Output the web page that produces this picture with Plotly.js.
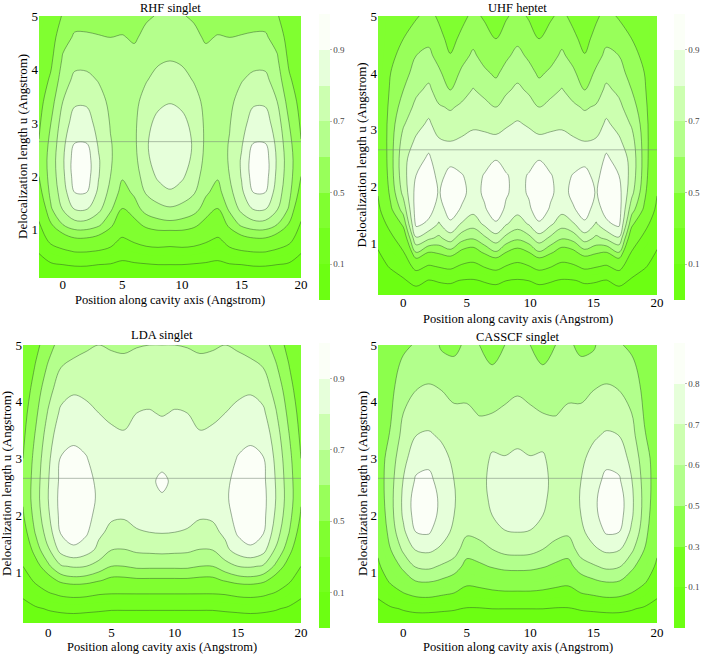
<!DOCTYPE html>
<html>
<head>
<meta charset="utf-8">
<script src="https://cdn.plot.ly/plotly-3.0.1.min.js"></script>
<style>
  html, body { margin: 0; padding: 0; background: #fff; }
  #chart { width: 701px; height: 656px; }
</style>
</head>
<body>
<div id="chart"></div>
<script>
// contour levels and colorbar labels
var levels7 = [0.1, 0.3, 0.5, 0.6, 0.7, 0.8, 0.9];
var labels7 = [0.1, 0.5, 0.7, 0.9];
var levels6 = [0.1, 0.3, 0.5, 0.6, 0.7, 0.8];
var labels6 = [0.1, 0.3, 0.5, 0.6, 0.7, 0.8];
// band colours, lowest band first
var greens8 = ['#6cff12', '#74ff1e', '#80ff30', '#98ff5a', '#b4ff8c', '#ccffb0', '#e6ffda', '#fbfff7'];
var greens7 = ['#6cff12', '#74ff1e', '#8cff4c', '#b2ff8c', '#ccffb0', '#e6ffda', '#fbfff7'];
var refLineU = 2.65;

// ---- RHF singlet: one row per x position, values along u ----
var rhfU = [0.1, 0.35, 0.6, 0.85, 1.1, 1.4, 1.7, 2.0, 2.3, 2.6, 3.0, 3.4, 3.8, 4.2, 4.6, 5.0];
var rhfX = [-2, -1, 0, 1, 2, 3, 4, 5, 6, 7, 8, 9, 10, 11, 12, 13, 14, 15, 16, 17, 18, 19, 20];
var rhfZ = [
  [0.01, 0.05, 0.11, 0.20, 0.28, 0.38, 0.46, 0.50, 0.51, 0.505, 0.485, 0.465, 0.445, 0.425, 0.40, 0.38],
  [0.015, 0.08, 0.22, 0.37, 0.49, 0.59, 0.625, 0.64, 0.645, 0.63, 0.60, 0.56, 0.515, 0.48, 0.45, 0.42],
  [0.02, 0.10, 0.27, 0.45, 0.60, 0.71, 0.75, 0.775, 0.785, 0.775, 0.745, 0.70, 0.65, 0.61, 0.57, 0.51],
  [0.02, 0.11, 0.31, 0.50, 0.66, 0.81, 0.90, 0.945, 0.95, 0.905, 0.845, 0.785, 0.725, 0.665, 0.61, 0.57],
  [0.02, 0.11, 0.31, 0.50, 0.66, 0.81, 0.90, 0.945, 0.95, 0.905, 0.845, 0.785, 0.725, 0.665, 0.61, 0.57],
  [0.02, 0.10, 0.29, 0.47, 0.62, 0.73, 0.78, 0.805, 0.81, 0.79, 0.76, 0.735, 0.695, 0.665, 0.605, 0.565],
  [0.015, 0.09, 0.25, 0.41, 0.53, 0.62, 0.67, 0.70, 0.71, 0.705, 0.695, 0.68, 0.665, 0.645, 0.60, 0.56],
  [0.012, 0.07, 0.17, 0.29, 0.40, 0.50, 0.565, 0.61, 0.64, 0.665, 0.675, 0.675, 0.665, 0.645, 0.605, 0.565],
  [0.015, 0.08, 0.21, 0.35, 0.46, 0.56, 0.615, 0.65, 0.67, 0.68, 0.68, 0.675, 0.66, 0.625, 0.59, 0.56],
  [0.015, 0.09, 0.24, 0.40, 0.53, 0.64, 0.71, 0.75, 0.78, 0.79, 0.775, 0.735, 0.695, 0.655, 0.62, 0.59],
  [0.02, 0.10, 0.25, 0.42, 0.56, 0.67, 0.76, 0.815, 0.84, 0.845, 0.825, 0.78, 0.73, 0.685, 0.64, 0.605],
  [0.02, 0.10, 0.24, 0.41, 0.57, 0.69, 0.79, 0.84, 0.865, 0.87, 0.845, 0.795, 0.745, 0.695, 0.645, 0.615],
  [0.02, 0.10, 0.25, 0.42, 0.56, 0.67, 0.76, 0.815, 0.84, 0.845, 0.825, 0.78, 0.73, 0.685, 0.64, 0.605],
  [0.015, 0.09, 0.24, 0.40, 0.53, 0.64, 0.71, 0.75, 0.78, 0.79, 0.775, 0.735, 0.695, 0.655, 0.62, 0.59],
  [0.015, 0.08, 0.21, 0.35, 0.46, 0.56, 0.615, 0.65, 0.67, 0.68, 0.68, 0.675, 0.66, 0.625, 0.59, 0.56],
  [0.012, 0.07, 0.17, 0.29, 0.40, 0.50, 0.565, 0.61, 0.64, 0.665, 0.675, 0.675, 0.665, 0.645, 0.605, 0.565],
  [0.015, 0.09, 0.25, 0.41, 0.53, 0.62, 0.67, 0.70, 0.71, 0.705, 0.695, 0.68, 0.665, 0.645, 0.60, 0.56],
  [0.02, 0.10, 0.29, 0.47, 0.62, 0.73, 0.78, 0.805, 0.81, 0.79, 0.76, 0.735, 0.695, 0.665, 0.605, 0.565],
  [0.02, 0.11, 0.31, 0.50, 0.66, 0.81, 0.90, 0.945, 0.95, 0.905, 0.845, 0.785, 0.725, 0.665, 0.61, 0.57],
  [0.02, 0.11, 0.31, 0.50, 0.66, 0.81, 0.90, 0.945, 0.95, 0.905, 0.845, 0.785, 0.725, 0.665, 0.61, 0.57],
  [0.02, 0.10, 0.27, 0.45, 0.60, 0.71, 0.75, 0.775, 0.785, 0.775, 0.745, 0.70, 0.65, 0.61, 0.57, 0.51],
  [0.015, 0.08, 0.22, 0.37, 0.49, 0.59, 0.625, 0.64, 0.645, 0.63, 0.60, 0.56, 0.515, 0.48, 0.45, 0.42],
  [0.01, 0.05, 0.11, 0.20, 0.28, 0.38, 0.46, 0.50, 0.51, 0.505, 0.485, 0.465, 0.445, 0.425, 0.40, 0.38]
];

// ---- UHF heptet ----
var uhfU = [0.1, 0.35, 0.6, 0.85, 1.1, 1.35, 1.6, 1.9, 2.2, 2.5, 2.8, 3.1, 3.4, 3.7, 4.0, 4.3, 4.6, 5.0];
var uhfX = [-2, -1, 0, 1, 2, 2.8, 3.7, 4.6, 5.5, 6.4, 7.3, 8.1, 9, 9.9, 10.7, 11.6, 12.5, 13.4, 14.3, 15.2, 16, 17, 18, 19, 20];
var uhfZ = [
  [0.01, 0.03, 0.06, 0.09, 0.14, 0.20, 0.26, 0.31, 0.34, 0.36, 0.365, 0.365, 0.36, 0.355, 0.35, 0.34, 0.33, 0.32],
  [0.01, 0.05, 0.11, 0.18, 0.26, 0.36, 0.48, 0.53, 0.555, 0.56, 0.56, 0.555, 0.54, 0.52, 0.50, 0.48, 0.46, 0.44],
  [0.015, 0.08, 0.18, 0.29, 0.40, 0.53, 0.64, 0.73, 0.765, 0.77, 0.74, 0.69, 0.64, 0.60, 0.56, 0.53, 0.50, 0.47],
  [0.02, 0.15, 0.36, 0.60, 0.79, 0.925, 0.945, 0.935, 0.90, 0.86, 0.815, 0.77, 0.725, 0.68, 0.64, 0.60, 0.55, 0.49],
  [0.02, 0.09, 0.28, 0.50, 0.72, 0.88, 0.935, 0.955, 0.945, 0.915, 0.865, 0.815, 0.77, 0.72, 0.67, 0.62, 0.58, 0.53],
  [0.02, 0.11, 0.31, 0.52, 0.68, 0.79, 0.86, 0.893, 0.875, 0.845, 0.81, 0.76, 0.71, 0.655, 0.615, 0.57, 0.53, 0.485],
  [0.02, 0.12, 0.34, 0.56, 0.75, 0.885, 0.94, 0.955, 0.925, 0.875, 0.80, 0.74, 0.69, 0.60, 0.55, 0.505, 0.47, 0.42],
  [0.02, 0.09, 0.27, 0.47, 0.64, 0.79, 0.89, 0.925, 0.905, 0.86, 0.815, 0.76, 0.715, 0.665, 0.615, 0.57, 0.52, 0.475],
  [0.02, 0.085, 0.24, 0.44, 0.61, 0.74, 0.83, 0.865, 0.87, 0.855, 0.82, 0.79, 0.74, 0.705, 0.66, 0.615, 0.575, 0.52],
  [0.02, 0.11, 0.31, 0.52, 0.68, 0.82, 0.89, 0.915, 0.905, 0.87, 0.825, 0.78, 0.725, 0.675, 0.615, 0.57, 0.53, 0.49],
  [0.02, 0.13, 0.36, 0.59, 0.76, 0.89, 0.945, 0.96, 0.94, 0.895, 0.82, 0.77, 0.70, 0.635, 0.585, 0.545, 0.50, 0.45],
  [0.02, 0.10, 0.29, 0.50, 0.67, 0.81, 0.885, 0.91, 0.905, 0.875, 0.835, 0.79, 0.74, 0.685, 0.63, 0.585, 0.54, 0.49],
  [0.02, 0.085, 0.24, 0.45, 0.62, 0.75, 0.83, 0.87, 0.88, 0.87, 0.845, 0.81, 0.76, 0.72, 0.67, 0.625, 0.58, 0.53],
  [0.02, 0.10, 0.29, 0.50, 0.67, 0.81, 0.885, 0.91, 0.905, 0.875, 0.835, 0.79, 0.74, 0.685, 0.63, 0.585, 0.54, 0.49],
  [0.02, 0.13, 0.36, 0.59, 0.76, 0.89, 0.945, 0.96, 0.94, 0.895, 0.82, 0.77, 0.70, 0.635, 0.585, 0.545, 0.50, 0.45],
  [0.02, 0.11, 0.31, 0.52, 0.68, 0.82, 0.89, 0.915, 0.905, 0.87, 0.825, 0.78, 0.725, 0.675, 0.615, 0.57, 0.53, 0.49],
  [0.02, 0.085, 0.24, 0.44, 0.61, 0.74, 0.83, 0.865, 0.87, 0.855, 0.82, 0.79, 0.74, 0.705, 0.66, 0.615, 0.575, 0.52],
  [0.02, 0.09, 0.27, 0.47, 0.64, 0.79, 0.89, 0.925, 0.905, 0.86, 0.815, 0.76, 0.715, 0.665, 0.615, 0.57, 0.52, 0.475],
  [0.02, 0.12, 0.34, 0.56, 0.75, 0.885, 0.94, 0.955, 0.925, 0.875, 0.80, 0.74, 0.69, 0.60, 0.55, 0.505, 0.47, 0.42],
  [0.02, 0.11, 0.31, 0.52, 0.68, 0.79, 0.86, 0.893, 0.875, 0.845, 0.81, 0.76, 0.71, 0.655, 0.615, 0.57, 0.53, 0.485],
  [0.02, 0.09, 0.28, 0.50, 0.72, 0.88, 0.935, 0.955, 0.945, 0.915, 0.865, 0.815, 0.77, 0.72, 0.67, 0.62, 0.58, 0.53],
  [0.02, 0.15, 0.36, 0.60, 0.79, 0.925, 0.945, 0.935, 0.90, 0.86, 0.815, 0.77, 0.725, 0.68, 0.64, 0.60, 0.55, 0.49],
  [0.015, 0.08, 0.18, 0.29, 0.40, 0.53, 0.64, 0.73, 0.765, 0.77, 0.74, 0.69, 0.64, 0.60, 0.56, 0.53, 0.50, 0.47],
  [0.01, 0.05, 0.11, 0.18, 0.26, 0.36, 0.48, 0.53, 0.555, 0.56, 0.56, 0.555, 0.54, 0.52, 0.50, 0.48, 0.46, 0.44],
  [0.01, 0.03, 0.06, 0.09, 0.14, 0.20, 0.26, 0.31, 0.34, 0.36, 0.365, 0.365, 0.36, 0.355, 0.35, 0.34, 0.33, 0.32]
];

// ---- LDA singlet ----
var ldaU = [0.1, 0.35, 0.6, 0.85, 1.1, 1.4, 1.7, 2.0, 2.3, 2.6, 3.0, 3.4, 3.8, 4.2, 4.6, 5.0];
var ldaX = [-2, -1, 0, 1, 2, 3, 4, 5, 6, 7, 8, 9, 10, 11, 12, 13, 14, 15, 16, 17, 18, 19, 20];
var ldaZ = [
  [0.01, 0.05, 0.12, 0.21, 0.30, 0.39, 0.45, 0.49, 0.51, 0.51, 0.50, 0.48, 0.46, 0.43, 0.40, 0.37],
  [0.015, 0.08, 0.20, 0.33, 0.45, 0.55, 0.61, 0.64, 0.655, 0.65, 0.635, 0.61, 0.58, 0.55, 0.51, 0.47],
  [0.02, 0.11, 0.27, 0.44, 0.58, 0.69, 0.75, 0.785, 0.80, 0.795, 0.78, 0.75, 0.71, 0.665, 0.615, 0.56],
  [0.02, 0.13, 0.32, 0.53, 0.69, 0.84, 0.91, 0.93, 0.935, 0.925, 0.905, 0.87, 0.82, 0.76, 0.70, 0.64],
  [0.02, 0.14, 0.34, 0.56, 0.71, 0.89, 0.93, 0.95, 0.955, 0.945, 0.92, 0.885, 0.84, 0.79, 0.725, 0.665],
  [0.02, 0.13, 0.33, 0.55, 0.70, 0.85, 0.915, 0.935, 0.94, 0.93, 0.905, 0.87, 0.825, 0.78, 0.725, 0.69],
  [0.02, 0.12, 0.30, 0.51, 0.66, 0.775, 0.82, 0.865, 0.885, 0.88, 0.86, 0.835, 0.80, 0.765, 0.73, 0.70],
  [0.02, 0.11, 0.29, 0.47, 0.60, 0.705, 0.775, 0.815, 0.84, 0.85, 0.835, 0.81, 0.79, 0.76, 0.73, 0.69],
  [0.02, 0.11, 0.29, 0.47, 0.60, 0.70, 0.77, 0.81, 0.835, 0.845, 0.83, 0.805, 0.785, 0.755, 0.725, 0.685],
  [0.02, 0.11, 0.29, 0.48, 0.62, 0.72, 0.79, 0.835, 0.86, 0.865, 0.85, 0.82, 0.80, 0.77, 0.735, 0.695],
  [0.02, 0.11, 0.29, 0.48, 0.62, 0.725, 0.80, 0.85, 0.88, 0.89, 0.87, 0.835, 0.805, 0.775, 0.74, 0.70],
  [0.02, 0.11, 0.29, 0.48, 0.62, 0.73, 0.805, 0.86, 0.895, 0.91, 0.885, 0.83, 0.795, 0.775, 0.74, 0.70],
  [0.02, 0.11, 0.29, 0.48, 0.62, 0.725, 0.80, 0.85, 0.88, 0.89, 0.87, 0.835, 0.805, 0.775, 0.74, 0.70],
  [0.02, 0.11, 0.29, 0.48, 0.62, 0.72, 0.79, 0.835, 0.86, 0.865, 0.85, 0.82, 0.80, 0.77, 0.735, 0.695],
  [0.02, 0.11, 0.29, 0.47, 0.60, 0.70, 0.77, 0.81, 0.835, 0.845, 0.83, 0.805, 0.785, 0.755, 0.725, 0.685],
  [0.02, 0.11, 0.29, 0.47, 0.60, 0.705, 0.775, 0.815, 0.84, 0.85, 0.835, 0.81, 0.79, 0.76, 0.73, 0.69],
  [0.02, 0.12, 0.30, 0.51, 0.66, 0.775, 0.82, 0.865, 0.885, 0.88, 0.86, 0.835, 0.80, 0.765, 0.73, 0.70],
  [0.02, 0.13, 0.33, 0.55, 0.70, 0.85, 0.915, 0.935, 0.94, 0.93, 0.905, 0.87, 0.825, 0.78, 0.725, 0.69],
  [0.02, 0.14, 0.34, 0.56, 0.71, 0.89, 0.93, 0.95, 0.955, 0.945, 0.92, 0.885, 0.84, 0.79, 0.725, 0.665],
  [0.02, 0.13, 0.32, 0.53, 0.69, 0.84, 0.91, 0.93, 0.935, 0.925, 0.905, 0.87, 0.82, 0.76, 0.70, 0.64],
  [0.02, 0.11, 0.27, 0.44, 0.58, 0.69, 0.75, 0.785, 0.80, 0.795, 0.78, 0.75, 0.71, 0.665, 0.615, 0.56],
  [0.015, 0.08, 0.20, 0.33, 0.45, 0.55, 0.61, 0.64, 0.655, 0.65, 0.635, 0.61, 0.58, 0.55, 0.51, 0.47],
  [0.01, 0.05, 0.12, 0.21, 0.30, 0.39, 0.45, 0.49, 0.51, 0.51, 0.50, 0.48, 0.46, 0.43, 0.40, 0.37]
];

// ---- CASSCF singlet ----
var casU = [0.1, 0.35, 0.6, 0.85, 1.1, 1.4, 1.7, 2.0, 2.3, 2.6, 3.0, 3.4, 3.8, 4.2, 4.6, 5.0];
var casX = [-2, -1, 0, 1, 2, 3, 4, 5, 6, 7, 8, 9, 10, 11, 12, 13, 14, 15, 16, 17, 18, 19, 20];
var casZ = [
  [0.01, 0.05, 0.12, 0.20, 0.27, 0.33, 0.38, 0.41, 0.43, 0.44, 0.44, 0.435, 0.43, 0.42, 0.41, 0.40],
  [0.015, 0.08, 0.21, 0.33, 0.42, 0.50, 0.545, 0.565, 0.57, 0.565, 0.55, 0.51, 0.49, 0.475, 0.46, 0.45],
  [0.02, 0.11, 0.28, 0.43, 0.53, 0.62, 0.68, 0.715, 0.72, 0.705, 0.67, 0.635, 0.60, 0.565, 0.525, 0.48],
  [0.02, 0.13, 0.33, 0.51, 0.61, 0.71, 0.80, 0.845, 0.85, 0.815, 0.76, 0.70, 0.655, 0.60, 0.56, 0.51],
  [0.02, 0.13, 0.34, 0.52, 0.62, 0.72, 0.81, 0.86, 0.87, 0.83, 0.77, 0.71, 0.665, 0.61, 0.575, 0.545],
  [0.02, 0.12, 0.31, 0.49, 0.59, 0.685, 0.74, 0.765, 0.77, 0.755, 0.725, 0.69, 0.645, 0.60, 0.53, 0.49],
  [0.02, 0.11, 0.28, 0.45, 0.56, 0.64, 0.68, 0.70, 0.705, 0.70, 0.685, 0.66, 0.615, 0.58, 0.52, 0.48],
  [0.015, 0.09, 0.22, 0.35, 0.46, 0.55, 0.615, 0.645, 0.66, 0.665, 0.66, 0.645, 0.615, 0.58, 0.55, 0.515],
  [0.015, 0.09, 0.23, 0.37, 0.48, 0.57, 0.625, 0.655, 0.67, 0.675, 0.665, 0.635, 0.595, 0.56, 0.53, 0.50],
  [0.015, 0.10, 0.25, 0.40, 0.51, 0.60, 0.665, 0.70, 0.715, 0.72, 0.71, 0.675, 0.60, 0.555, 0.505, 0.465],
  [0.015, 0.10, 0.26, 0.42, 0.53, 0.63, 0.695, 0.735, 0.75, 0.745, 0.705, 0.665, 0.615, 0.575, 0.535, 0.50],
  [0.015, 0.10, 0.26, 0.42, 0.535, 0.635, 0.70, 0.745, 0.76, 0.755, 0.715, 0.68, 0.63, 0.59, 0.55, 0.52],
  [0.015, 0.10, 0.26, 0.42, 0.53, 0.63, 0.695, 0.735, 0.75, 0.745, 0.705, 0.665, 0.615, 0.575, 0.535, 0.50],
  [0.015, 0.10, 0.25, 0.40, 0.51, 0.60, 0.665, 0.70, 0.715, 0.72, 0.71, 0.675, 0.60, 0.555, 0.505, 0.465],
  [0.015, 0.09, 0.23, 0.37, 0.48, 0.57, 0.625, 0.655, 0.67, 0.675, 0.665, 0.635, 0.595, 0.56, 0.53, 0.50],
  [0.015, 0.09, 0.22, 0.35, 0.46, 0.55, 0.615, 0.645, 0.66, 0.665, 0.66, 0.645, 0.615, 0.58, 0.55, 0.515],
  [0.02, 0.11, 0.28, 0.45, 0.56, 0.64, 0.68, 0.70, 0.705, 0.70, 0.685, 0.66, 0.615, 0.58, 0.52, 0.48],
  [0.02, 0.12, 0.31, 0.49, 0.59, 0.685, 0.74, 0.765, 0.77, 0.755, 0.725, 0.69, 0.645, 0.60, 0.53, 0.49],
  [0.02, 0.13, 0.34, 0.52, 0.62, 0.72, 0.81, 0.86, 0.87, 0.83, 0.77, 0.71, 0.665, 0.61, 0.575, 0.545],
  [0.02, 0.13, 0.33, 0.51, 0.61, 0.71, 0.80, 0.845, 0.85, 0.815, 0.76, 0.70, 0.655, 0.60, 0.56, 0.51],
  [0.02, 0.11, 0.28, 0.43, 0.53, 0.62, 0.68, 0.715, 0.72, 0.705, 0.67, 0.635, 0.60, 0.565, 0.525, 0.48],
  [0.015, 0.08, 0.21, 0.33, 0.42, 0.50, 0.545, 0.565, 0.57, 0.565, 0.55, 0.51, 0.49, 0.475, 0.46, 0.45],
  [0.01, 0.05, 0.12, 0.20, 0.27, 0.33, 0.38, 0.41, 0.43, 0.44, 0.44, 0.435, 0.43, 0.42, 0.41, 0.40]
];

var xTicks = [0, 5, 10, 15, 20];
var uTicks = [1, 2, 3, 4, 5];

var W = 701, H = 656;
var serif = 'Liberation Serif, Times New Roman, serif';
var lineColor = 'rgba(40,70,40,0.55)';

// pixel boxes of each panel: plot area [left, right, top, bottom], colorbar left/top/bottom, text positions
var panels = [
  { title: 'RHF singlet', x: rhfX, u: rhfU, z: rhfZ, levels: levels7, labels: labels7, colors: greens8,
    box: [39, 301, 16, 278], cb: [319, 14, 300], titleY: 8, xTitleY: 300, yTitleX: 22, tickShift: -3 },
  { title: 'UHF heptet', x: uhfX, u: uhfU, z: uhfZ, levels: levels7, labels: labels7, colors: greens8,
    box: [378, 657, 16, 295], cb: [674, 14, 300], titleY: 8, xTitleY: 319, yTitleX: 361, tickShift: -2 },
  { title: 'LDA singlet', x: ldaX, u: ldaU, z: ldaZ, levels: levels7, labels: labels7, colors: greens8,
    box: [23, 301, 345, 623], cb: [319, 343, 628], titleY: 335, xTitleY: 647, yTitleX: 6, tickShift: 0 },
  { title: 'CASSCF singlet', x: casX, u: casU, z: casZ, levels: levels6, labels: labels6, colors: greens7,
    box: [378, 657, 345, 623], cb: [674, 343, 628], titleY: 337, xTitleY: 647, yTitleX: 362, tickShift: 0 }
];

// colorscale for a fill trace with levels every 0.1: each 0.1 band takes the colour of its level band
function fillScale(levels, colors) {
  var top = levels[levels.length - 1];
  var n = Math.round((top - 0.1) / 0.1) + 2;
  var stops = [];
  for (var k = 0; k < n; k++) {
    var lo = 0.1 * k;
    var idx = levels.filter(function (l) { return l <= lo + 1e-9; }).length;
    var a = Math.max(0, (k - 0.5) / (n - 1));
    var b = Math.min(1, (k + 0.5) / (n - 1));
    stops.push([a, colors[idx]], [b, colors[idx]]);
  }
  return stops;
}

// colorscale for the legend bar: equal height for every band
function legendScale(colors) {
  var nb = colors.length, stops = [];
  for (var k = 0; k < nb; k++) {
    stops.push([k / nb, colors[k]], [(k + 1) / nb, colors[k]]);
  }
  return stops;
}

var data = [];
var layout = {
  width: W, height: H,
  margin: { l: 0, r: 0, t: 0, b: 0 },
  paper_bgcolor: '#fff', plot_bgcolor: '#fff',
  font: { family: serif, size: 13, color: '#000' },
  showlegend: false,
  annotations: [],
  shapes: []
};

panels.forEach(function (p, i) {
  var n = i + 1;
  var xa = 'x' + (n > 1 ? n : ''), ya = 'y' + (n > 1 ? n : '');
  var top = p.levels[p.levels.length - 1];
  var base = { type: 'contour', x: p.x, y: p.u, z: p.z, transpose: true,
               xaxis: xa, yaxis: ya, hoverinfo: 'skip', showscale: false, autocontour: false };

  data.push(Object.assign({}, base, {
    contours: { start: 0.1, end: top, size: 0.1, coloring: 'fill', showlines: false },
    colorscale: fillScale(p.levels, p.colors),
    line: { width: 0, smoothing: 1 }
  }));
  // upper levels every 0.1, lower levels 0.1 and 0.3
  data.push(Object.assign({}, base, {
    contours: { start: 0.5, end: top, size: 0.1, coloring: 'none', showlines: true },
    line: { color: lineColor, width: 0.8, smoothing: 1 }
  }));
  data.push(Object.assign({}, base, {
    contours: { start: 0.1, end: 0.3, size: 0.2, coloring: 'none', showlines: true },
    line: { color: lineColor, width: 0.8, smoothing: 1 }
  }));

  // legend bar
  var nb = p.colors.length;
  data.push({
    type: 'scatter', mode: 'markers', x: [-50], y: [-50], xaxis: xa, yaxis: ya, hoverinfo: 'skip',
    marker: {
      color: [0], cmin: 0, cmax: nb, colorscale: legendScale(p.colors), showscale: true, size: 1,
      colorbar: {
        x: p.cb[0] / W, xanchor: 'left', y: 1 - (p.cb[1] + p.cb[2]) / 2 / H, yanchor: 'middle',
        len: p.cb[2] - p.cb[1], lenmode: 'pixels', thickness: 11, thicknessmode: 'pixels',
        xpad: 0, ypad: 0, outlinewidth: 0,
        tickvals: p.labels.map(function (v) { return p.levels.indexOf(v) + 1; }),
        ticktext: p.labels.map(function (v) { return v.toFixed(1); }),
        ticks: 'outside', ticklen: 2, tickcolor: '#bbb',
        tickfont: { family: serif, size: 9, color: '#444' }
      }
    }
  });

  var b = p.box;
  layout['xaxis' + (n > 1 ? n : '')] = {
    domain: [b[0] / W, b[1] / W], anchor: ya, range: [-2, 20], tickvals: xTicks,
    showgrid: false, zeroline: false, showline: false, ticks: '', ticklabelstandoff: p.tickShift,
    tickfont: { family: serif, size: 13, color: '#000' }
  };
  layout['yaxis' + (n > 1 ? n : '')] = {
    domain: [1 - b[3] / H, 1 - b[2] / H], anchor: xa, range: [0.1, 5], tickvals: uTicks,
    showgrid: false, zeroline: false, showline: false, ticks: '',
    tickfont: { family: serif, size: 13, color: '#000' }
  };

  layout.shapes.push({
    type: 'line', xref: xa + ' domain', yref: ya, x0: 0, x1: 1, y0: refLineU, y1: refLineU,
    line: { color: 'rgba(120,135,120,0.55)', width: 1 }
  });

  var cx = (b[0] + b[1]) / 2 / W;
  layout.annotations.push(
    { text: p.title, xref: 'paper', yref: 'paper', x: cx, y: 1 - p.titleY / H,
      xanchor: 'center', yanchor: 'middle', showarrow: false, font: { family: serif, size: 12.5 } },
    { text: 'Position along cavity axis (Angstrom)', xref: 'paper', yref: 'paper', x: cx, y: 1 - p.xTitleY / H,
      xanchor: 'center', yanchor: 'middle', showarrow: false, font: { family: serif, size: 12.5 } },
    { text: 'Delocalization length u (Angstrom)', xref: 'paper', yref: 'paper', x: p.yTitleX / W,
      y: 1 - (b[2] + b[3]) / 2 / H, xanchor: 'center', yanchor: 'middle', textangle: -90,
      showarrow: false, font: { family: serif, size: 13 } }
  );
});

Plotly.newPlot('chart', data, layout, { displayModeBar: false, staticPlot: true });
</script>
</body>
</html>
